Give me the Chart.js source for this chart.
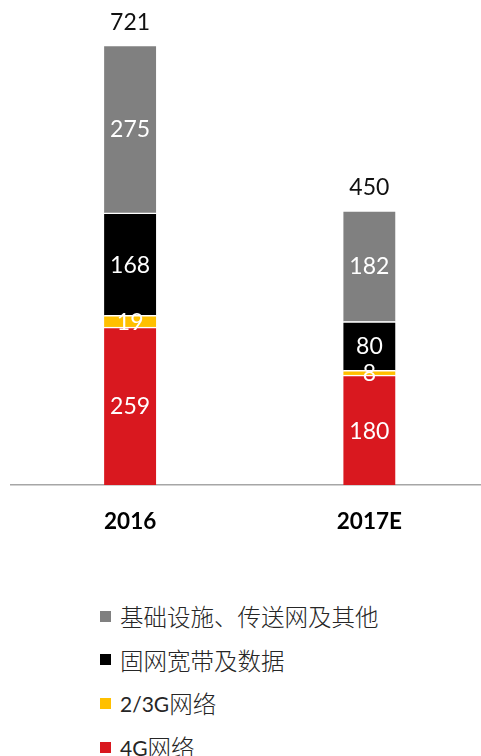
<!DOCTYPE html>
<html><head><meta charset="utf-8">
<script src="https://cdn.jsdelivr.net/npm/chart.js@4/dist/chart.umd.min.js"></script>
<style>
html,body{margin:0;padding:0;background:#fff;overflow:hidden;width:481px;height:756px;}
#wrap{position:absolute;left:0;top:0;width:489px;height:560px;}
#legend{position:absolute;left:100px;top:0;font-family:"Lato","Noto Sans CJK SC",sans-serif;font-size:21px;color:#262626;}
.item{position:absolute;left:0;white-space:nowrap;display:flex;align-items:center;height:30px;}
.sw{width:11px;height:11px;margin-right:9px;display:inline-block;}
.cjk{font-family:"Noto Sans CJK SC",sans-serif;font-size:23.5px;font-weight:300;}
</style></head>
<body>
<div id="wrap"><canvas id="c" width="489" height="560"></canvas></div>
<div id="legend"></div>
<script>
const categories = ["2016", "2017E"];
const seriesNames = ["4G网络", "2/3G网络", "固网宽带及数据", "基础设施、传送网及其他"];
const s4G = [259, 180];
const s23G = [19, 8];
const sFixed = [168, 80];
const sInfra = [275, 182];
const totals = [721, 450];
const colors = ["#D9181F", "#FFC000", "#000000", "#808080"];
const seriesValues = [s4G, s23G, sFixed, sInfra];

const datasets = seriesNames.map((n, i) => ({
  label: n, data: seriesValues[i], backgroundColor: colors[i],
  borderColor: "#ffffff", borderWidth: {top: 1.5, bottom: 0, left: 0, right: 0}, borderSkipped: false,
  barThickness: 52
}));

const labelPlugin = {
  id: 'labels',
  afterDatasetsDraw(chart) {
    const ctx = chart.ctx;
    ctx.save();
    ctx.textAlign = 'center';
    ctx.textBaseline = 'middle';
    ctx.font = '23px Lato, "Noto Sans", sans-serif';
    chart.data.datasets.forEach((ds, di) => {
      const meta = chart.getDatasetMeta(di);
      meta.data.forEach((el, i) => {
        ctx.fillStyle = '#ffffff';
        ctx.fillText(String(ds.data[i]), el.x, (el.y + el.base) / 2 + 1);
      });
    });
    const last = chart.getDatasetMeta(chart.data.datasets.length - 1);
    last.data.forEach((el, i) => {
      ctx.fillStyle = '#111111';
      ctx.fillText(String(totals[i]), el.x, el.y - 23);
    });
    ctx.restore();
  }
};

new Chart(document.getElementById('c'), {
  type: 'bar',
  data: { labels: categories, datasets },
  options: {
    responsive: false, animation: false,
    layout: { padding: { left: 10.5, right: 0, top: 0, bottom: 0 } },
    plugins: { legend: { display: false }, tooltip: { enabled: false } },
    scales: {
      x: {
        stacked: true,
        grid: { display: false, drawTicks: false },
        border: { display: true, color: '#a6a6a6', width: 1.5 },
        ticks: { color: '#000', font: { family: 'Lato', weight: 'bold', size: 22.5 }, padding: 23 },
        afterFit(scale) { scale.height = 75; }
      },
      y: {
        stacked: true, display: false, min: 0, max: 795
      }
    }
  },
  plugins: [labelPlugin]
});

const legend = document.getElementById('legend');
const rowsY = [616, 659.5, 703, 747];
for (let k = 0; k < 4; k++) {
  const i = 3 - k;
  const d = document.createElement('div');
  d.className = 'item';
  d.style.top = (rowsY[k] - 15) + 'px';
  const sw = document.createElement('span');
  sw.className = 'sw'; sw.style.background = colors[i];
  d.appendChild(sw);
  const parts = seriesNames[i].match(/[\u3000-\u9fff]+|[^\u3000-\u9fff]+/g);
  parts.forEach(p => {
    const s = document.createElement('span');
    if (/[\u3000-\u9fff]/.test(p)) s.className = 'cjk';
    s.textContent = p;
    d.appendChild(s);
  });
  legend.appendChild(d);
}
</script>
</body></html>
